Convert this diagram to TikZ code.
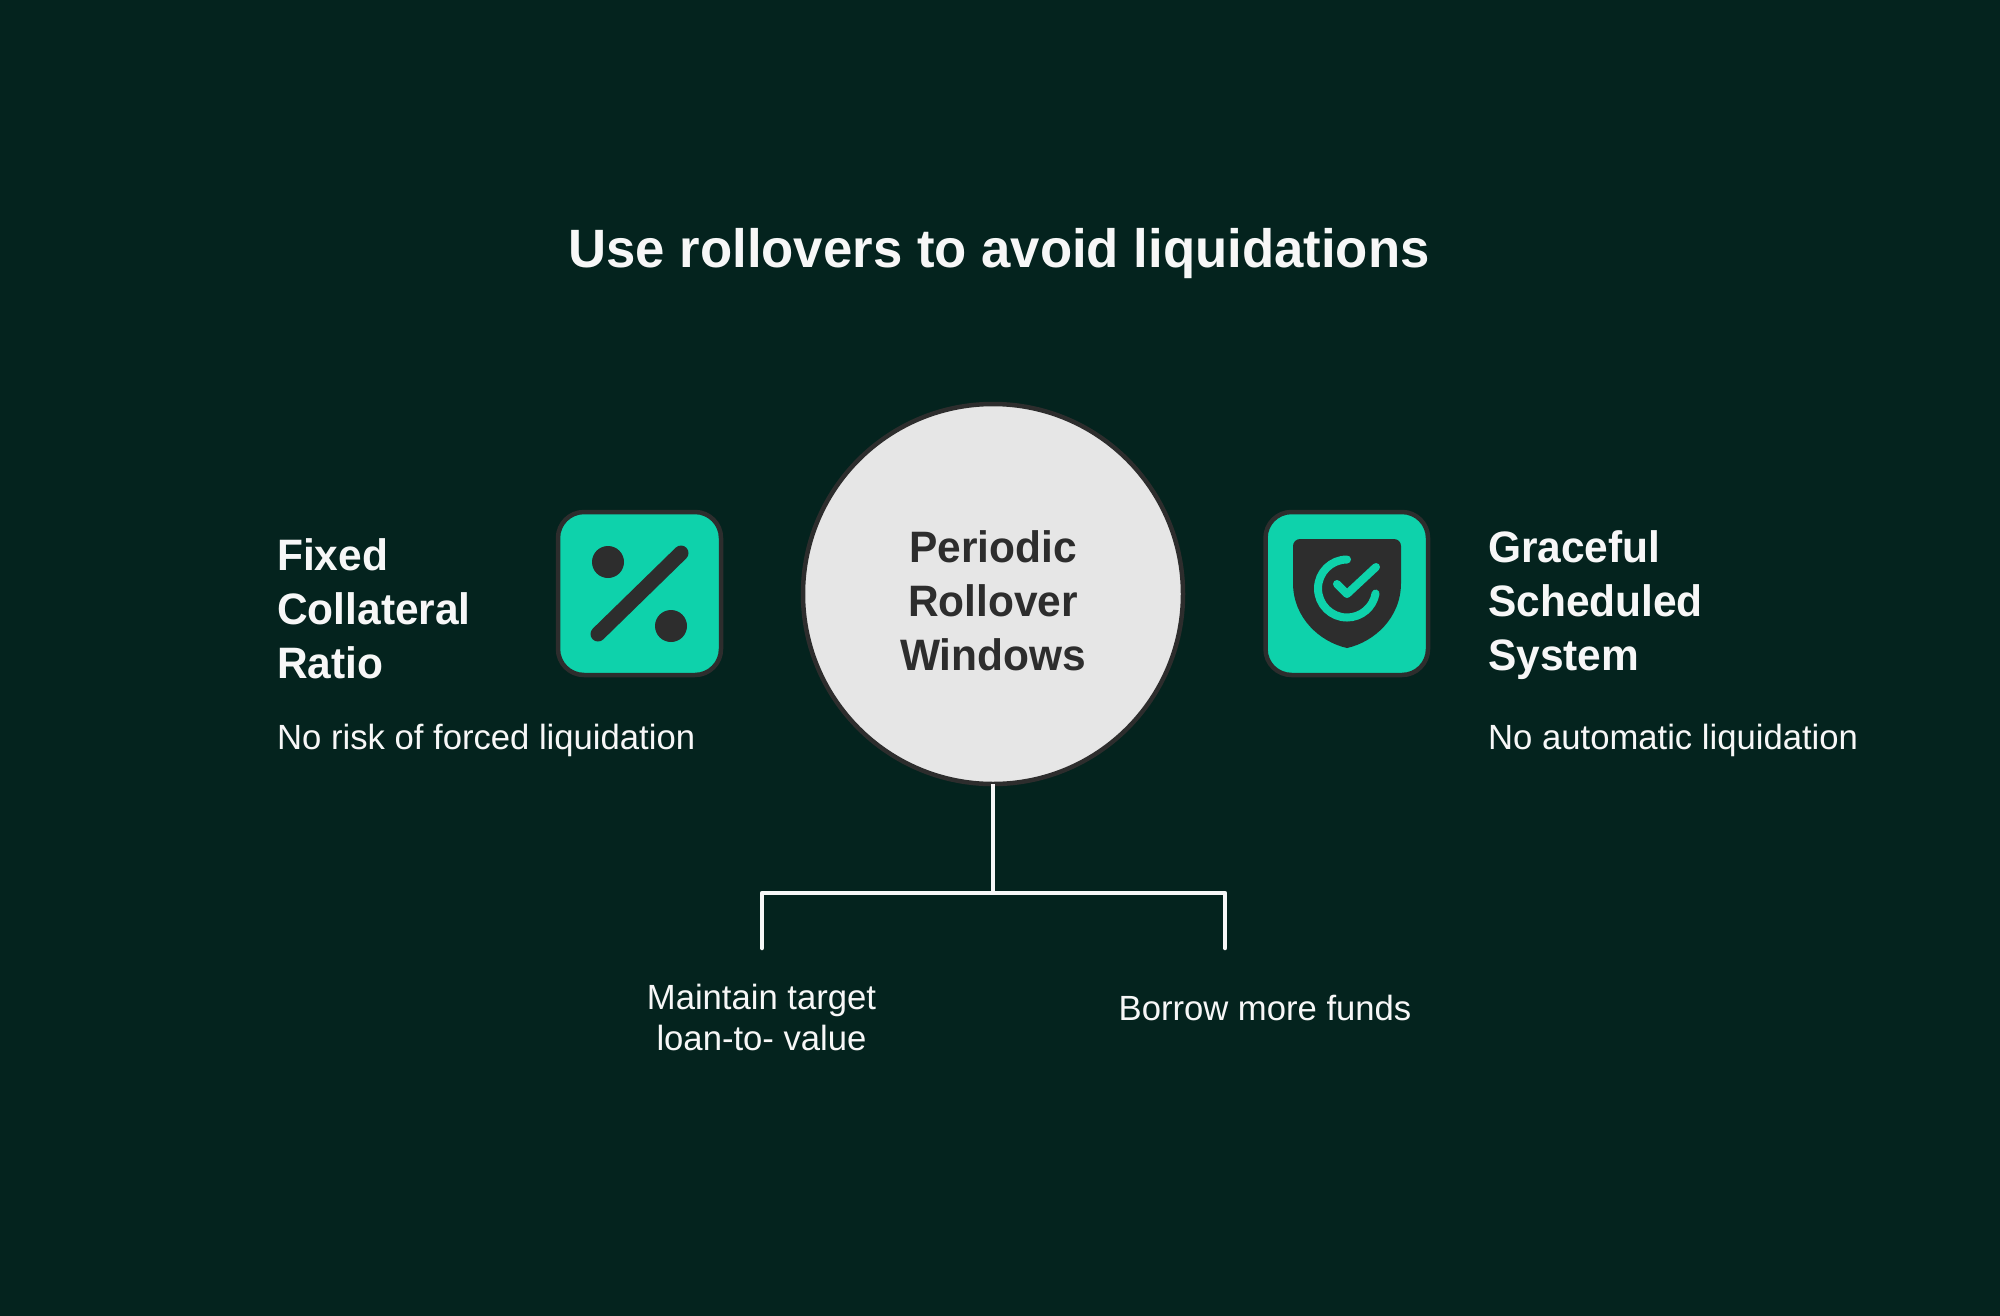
\documentclass[tikz,border=0pt]{standalone}
\usepackage{fontspec}
\setmainfont{Liberation Sans}
\newfontfamily\titlefont[FakeStretch=0.976]{Liberation Sans Bold}
\newfontfamily\headfont[FakeStretch=0.965]{Liberation Sans Bold}
\newfontfamily\subfont[FakeStretch=0.99]{Liberation Sans}
\definecolor{bgc}{HTML}{04231E}
\definecolor{teal}{HTML}{0ED2AB}
\definecolor{ink}{HTML}{2D2D2D}
\definecolor{disc}{HTML}{E6E6E6}
\definecolor{paper}{HTML}{F7F7F7}
\tikzset{
  x=1pt,y=-1pt,
  tile/.style={draw=ink,fill=teal,line width=4.5pt,rounded corners=26pt},
  title/.style={font=\fontsize{54}{60}\selectfont\titlefont,text=paper,inner sep=0pt,anchor=base},
  head/.style={font=\fontsize{44}{54}\selectfont\headfont,text=paper,inner sep=0pt,align=left},
  chead/.style={font=\fontsize{44}{54}\selectfont\headfont,text=ink,inner sep=0pt,align=center},
  sub/.style={font=\fontsize{35}{41}\selectfont\subfont,text=paper,inner sep=0pt},
  link/.style={draw=paper,line width=4.5pt},
}
\begin{document}
\begin{tikzpicture}
\useasboundingbox (0,0) rectangle (2000,1315);
\fill[bgc] (-5,-5) rectangle (2005,1320);
\node[title] (t) at (999,267) {Use rollovers to avoid liquidations};
% connectors
\node[circle,draw=ink,fill=disc,line width=4.5pt,minimum size=380pt,inner sep=0pt,outer sep=0pt] (c) at (993,594) {};
\coordinate (j) at (993,893);
\coordinate (la) at (762,893);
\coordinate (lb) at (762,948);
\coordinate (ra) at (1225,893);
\coordinate (rb) at (1225,948);
\draw[link] (c.south) -- (j);
\draw[link,line join=round,line cap=round] (lb) -- (la) -- (ra) -- (rb);
\node[chead] (ct) at (993,600.5) {Periodic\\Rollover\\Windows};
% left tile
\draw[tile] (558,512) rectangle (721,675);
\fill[ink] (608,562) circle (16);
\fill[ink] (671,626) circle (16);
\draw[ink,line width=15pt,line cap=round] (598,634) -- (681,553);
% right tile
\draw[tile] (1265.5,512) rectangle (1428,675);
\fill[ink] (1347,648) .. controls (1320,642) and (1293,618) .. (1293,583) -- (1293,546)
  arc[start angle=180,end angle=90,radius=7pt] -- (1394,539) arc[start angle=90,end angle=0,radius=7pt]
  -- (1401,583) .. controls (1401,618) and (1374,642) .. (1347,648) -- cycle;
\draw[teal,line width=8pt,line cap=round] (1347,559.5) arc[start angle=90,end angle=350,radius=29pt];
\draw[teal,line width=8pt,line cap=round,line join=round] (1337,584) -- (1347,594) -- (1376,567);
% text
\node[head,anchor=west] (lh) at (277,609) {Fixed\\Collateral\\Ratio};
\node[sub,anchor=base west] (ls) at (277,749) {No risk of forced liquidation};
\node[head,anchor=west] (rh) at (1488,605) {Graceful\\Scheduled\\System};
\node[sub,anchor=base west] (rs) at (1488,749) {No automatic liquidation};
\node[sub,align=center] (ma) at (761.5,1017) {Maintain target\\loan-to- value};
\node[sub,anchor=base] (mb) at (1265,1020) {Borrow more funds};
\end{tikzpicture}
\end{document}
